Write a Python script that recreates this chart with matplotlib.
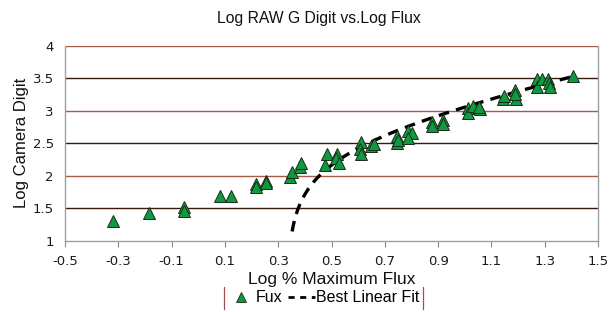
import numpy as np
import matplotlib
matplotlib.use("Agg")
import matplotlib.pyplot as plt
from matplotlib.lines import Line2D

# Data
log_flux = [-0.319, -0.185, -0.052, -0.052, 0.082, 0.123, 0.216, 0.216, 0.253, 0.253,
            0.344, 0.350, 0.382, 0.384, 0.476, 0.484, 0.519, 0.515, 0.528,
            0.609, 0.607, 0.609, 0.648, 0.659, 0.744, 0.744, 0.748, 0.788, 0.800, 0.786,
            0.876, 0.878, 0.919, 0.919, 1.013, 1.011, 1.030, 1.057, 1.052,
            1.145, 1.147, 1.189, 1.193, 1.187, 1.272, 1.272, 1.290, 1.313, 1.316, 1.320, 1.405]
log_digit = [1.31, 1.43, 1.52, 1.45, 1.69, 1.69, 1.87, 1.83, 1.92, 1.89,
             1.98, 2.06, 2.14, 2.20, 2.16, 2.34, 2.33, 2.27, 2.20,
             2.51, 2.41, 2.33, 2.46, 2.49, 2.61, 2.50, 2.55, 2.68, 2.65, 2.58,
             2.83, 2.77, 2.85, 2.79, 3.04, 2.97, 3.07, 3.02, 3.06,
             3.18, 3.22, 3.32, 3.18, 3.26, 3.48, 3.36, 3.49, 3.49, 3.42, 3.36, 3.53]

# Linear fit in linear space: digit = slope * flux + intercept
fit_slope = 144.0
fit_intercept = -310.0
fit_x_range = [0.352, 1.42]

x_ticks = [-0.5, -0.3, -0.1, 0.1, 0.3, 0.5, 0.7, 0.9, 1.1, 1.3, 1.5]
y_ticks = [1, 1.5, 2, 2.5, 3, 3.5, 4]

fig = plt.figure(figsize=(6.14, 3.12), dpi=100)
ax = fig.add_axes([0.106, 0.2285, 0.868, 0.6255])
ax.set_xlim(-0.5, 1.5)
ax.set_ylim(1, 4)

grid_colors = {1.5: "#3a1810", 2: "#a85a48", 2.5: "#3a1810", 3: "#a85a48", 3.5: "#3a1810", 4: "#a85a48"}
for yv, c in grid_colors.items():
    ax.axhline(yv, color=c, lw=1.0, zorder=1)

xf = np.linspace(fit_x_range[0], fit_x_range[1], 300)
yf = np.log10(fit_slope * 10 ** xf + fit_intercept)
ax.plot(xf, yf, color="black", lw=2.4, dashes=(3.2, 2.2), zorder=3)

ax.plot(log_flux, log_digit, linestyle="none", marker="^", markersize=8.5,
        markerfacecolor="#109a40", markeredgecolor="#1a2a1a", markeredgewidth=0.7,
        zorder=4)

ax.set_xticks(x_ticks)
ax.set_xticklabels([f"{t:g}" for t in x_ticks], fontsize=9.5, family="DejaVu Sans", color="#1a1a1a")
ax.set_yticks(y_ticks)
ax.set_yticklabels([f"{t:g}" for t in y_ticks], fontsize=9.5, family="DejaVu Sans", color="#1a1a1a")
ax.tick_params(axis="x", direction="out", length=4, color="#888888", pad=6)
ax.tick_params(axis="y", length=0, pad=8)

for s in ["left", "bottom", "right"]:
    ax.spines[s].set_color("#9aa0a8")
    ax.spines[s].set_linewidth(1.0)
ax.spines["top"].set_visible(False)

ax.set_xlabel("Log % Maximum Flux", fontsize=12.5, family="Liberation Sans", labelpad=3, color="#111111")
ax.set_ylabel("Log Camera Digit", fontsize=12, family="Liberation Sans", labelpad=3, color="#111111")
fig.text(0.52, 0.942, "Log RAW G Digit vs.Log Flux", ha="center", va="center",
         fontsize=11.3, family="Liberation Sans", color="#111111")

h_pts = Line2D([], [], linestyle="none", marker="^", markersize=6.5,
               markerfacecolor="#109a40", markeredgecolor="#1a2a1a", markeredgewidth=0.6)
h_fit = Line2D([], [], color="black", lw=2.0, dashes=(2.2, 2.0))
leg = fig.legend([h_pts, h_fit], ["Fux", "Best Linear Fit"],
                 loc="center", bbox_to_anchor=(0.527, 0.045), ncol=2, frameon=False,
                 prop={"family": "Liberation Sans", "size": 11.5}, handlelength=1.7,
                 handletextpad=0.1, columnspacing=0.3, borderpad=0.2)
fig.canvas.draw()
bb = leg.get_window_extent().transformed(fig.transFigure.inverted())
for xe in (bb.x0, bb.x1):
    fig.add_artist(Line2D([xe, xe], [bb.y0, bb.y1], color="#a05050", lw=0.9,
                          transform=fig.transFigure))

fig.savefig("out.png", dpi=100)
